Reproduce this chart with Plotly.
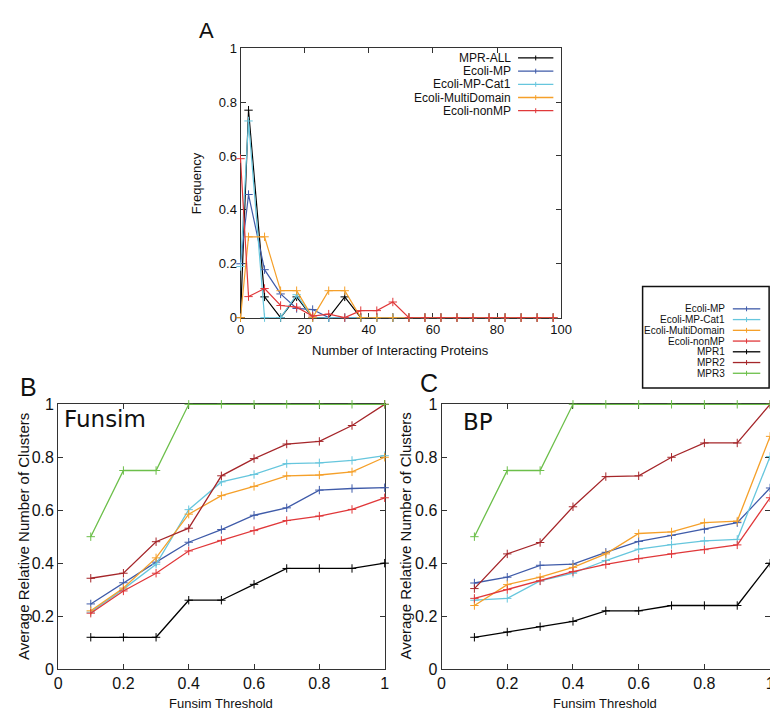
import plotly.graph_objects as go

# ---- Panel A: distribution of number of interacting proteins ----
interact_x = [0, 2.5, 7.5, 12.5, 17.5, 22.5, 27.5, 32.5, 37.5, 42.5, 47.5,
              52.5, 57.5, 62.5, 67.5, 72.5, 77.5, 82.5, 87.5, 92.5, 97.5]
freq_mpr_all = [0, 0.77, 0.077, 0, 0.077, 0, 0, 0.077, 0, 0, 0,
                0, 0, 0, 0, 0, 0, 0, 0, 0, 0]
freq_ecoli_mp = [0.2, 0.457, 0.178, 0.088, 0.034, 0.03, 0, 0, 0, 0, 0,
                 0, 0, 0, 0, 0, 0, 0, 0, 0, 0]
freq_cat1 = [0.19, 0.73, 0, 0, 0.085, 0, 0, 0, 0, 0, 0,
             0, 0, 0, 0, 0, 0, 0, 0, 0, 0]
freq_multidomain = [0, 0.3, 0.3, 0.1, 0.1, 0, 0.1, 0.1, 0, 0, 0,
                    0, 0, 0, 0, 0, 0, 0, 0, 0, 0]
freq_nonmp = [0.59, 0.078, 0.108, 0.045, 0.039, 0.006, 0.013, 0, 0.026, 0.026, 0.058,
              0, 0, 0, 0, 0, 0, 0, 0, 0, 0]

# ---- Panels B and C: relative number of clusters vs Funsim threshold ----
threshold = [0.1, 0.2, 0.3, 0.4, 0.5, 0.6, 0.7, 0.8, 0.9, 1.0]

funsim_ecoli_mp = [0.246, 0.326, 0.404, 0.479, 0.527, 0.581, 0.609, 0.676, 0.682, 0.685]
funsim_cat1 = [0.215, 0.302, 0.396, 0.602, 0.707, 0.735, 0.776, 0.779, 0.788, 0.806]
funsim_multidomain = [0.22, 0.306, 0.42, 0.585, 0.655, 0.69, 0.73, 0.733, 0.745, 0.80]
funsim_nonmp = [0.211, 0.295, 0.362, 0.446, 0.486, 0.523, 0.561, 0.578, 0.603, 0.647]
funsim_mpr1 = [0.12, 0.12, 0.12, 0.26, 0.26, 0.32, 0.38, 0.38, 0.38, 0.40]
funsim_mpr2 = [0.343, 0.362, 0.481, 0.532, 0.73, 0.795, 0.85, 0.86, 0.92, 1.0]
funsim_mpr3 = [0.5, 0.75, 0.75, 1, 1, 1, 1, 1, 1, 1]

bp_ecoli_mp = [0.325, 0.347, 0.392, 0.396, 0.441, 0.482, 0.505, 0.528, 0.553, 0.684]
bp_cat1 = [0.26, 0.267, 0.333, 0.362, 0.41, 0.453, 0.47, 0.484, 0.49, 0.803]
bp_multidomain = [0.24, 0.319, 0.347, 0.384, 0.435, 0.512, 0.518, 0.553, 0.559, 0.879]
bp_nonmp = [0.267, 0.30, 0.333, 0.368, 0.395, 0.417, 0.435, 0.451, 0.469, 0.647]
bp_mpr1 = [0.12, 0.14, 0.16, 0.18, 0.22, 0.22, 0.24, 0.24, 0.24, 0.40]
bp_mpr2 = [0.304, 0.435, 0.478, 0.613, 0.727, 0.73, 0.80, 0.854, 0.854, 1.0]
bp_mpr3 = [0.5, 0.75, 0.75, 1, 1, 1, 1, 1, 1, 1]

# colours
C_BLACK = '#000000'
C_BLUE = '#3f5ba9'
C_CYAN = '#66c6dd'
C_ORANGE = '#f5a02a'
C_RED = '#e0383a'
C_DARKRED = '#a5262a'
C_GREEN = '#6cbf4a'

W, H = 778, 713
FONT = 'Liberation Sans, Arial, sans-serif'


def px(x):
    return x / W


def py(y):
    return 1 - y / H


fig = go.Figure()


def add_line(x, y, name, color, xa, ya, width=1.2):
    fig.add_trace(go.Scatter(
        x=x, y=y, name=name, mode='lines+markers',
        line=dict(color=color, width=width),
        marker=dict(symbol='cross-thin', size=6, line=dict(width=1, color=color)),
        xaxis=xa, yaxis=ya, showlegend=False, cliponaxis=False,
    ))


panel_a = [
    ('MPR-ALL', freq_mpr_all, C_BLACK),
    ('Ecoli-MP', freq_ecoli_mp, C_BLUE),
    ('Ecoli-MP-Cat1', freq_cat1, C_CYAN),
    ('Ecoli-MultiDomain', freq_multidomain, C_ORANGE),
    ('Ecoli-nonMP', freq_nonmp, C_RED),
]
for name, vals, col in panel_a:
    add_line(interact_x, vals, name, col, 'x', 'y')

panel_b = [
    ('Ecoli-MP', funsim_ecoli_mp, C_BLUE),
    ('Ecoli-MP-Cat1', funsim_cat1, C_CYAN),
    ('Ecoli-MultiDomain', funsim_multidomain, C_ORANGE),
    ('Ecoli-nonMP', funsim_nonmp, C_RED),
    ('MPR1', funsim_mpr1, C_BLACK),
    ('MPR2', funsim_mpr2, C_DARKRED),
    ('MPR3', funsim_mpr3, C_GREEN),
]
for name, vals, col in panel_b:
    add_line(threshold, vals, name, col, 'x2', 'y2', 1.3)

panel_c = [
    ('Ecoli-MP', bp_ecoli_mp, C_BLUE),
    ('Ecoli-MP-Cat1', bp_cat1, C_CYAN),
    ('Ecoli-MultiDomain', bp_multidomain, C_ORANGE),
    ('Ecoli-nonMP', bp_nonmp, C_RED),
    ('MPR1', bp_mpr1, C_BLACK),
    ('MPR2', bp_mpr2, C_DARKRED),
    ('MPR3', bp_mpr3, C_GREEN),
]
for name, vals, col in panel_c:
    add_line(threshold, vals, name, col, 'x3', 'y3', 1.3)

axis_common = dict(showgrid=False, zeroline=False, showline=True, linecolor='#333333',
                   linewidth=1, mirror='ticks', ticks='inside', ticklen=5,
                   tickcolor='#333333', layer='below traces')

fig.update_layout(
    width=W, height=H,
    margin=dict(l=0, r=0, t=0, b=0),
    paper_bgcolor='white', plot_bgcolor='white',
    font=dict(family=FONT, size=13, color='#111111'),
    xaxis=dict(domain=[px(233), px(560)], range=[0, 100], dtick=20, anchor='y',
               tickfont=dict(size=13), **axis_common),
    yaxis=dict(domain=[py(309), py(33)], range=[0, 1], dtick=0.2, anchor='x',
               tickfont=dict(size=13), **axis_common),
    xaxis2=dict(domain=[px(47), px(380)], range=[0, 1], dtick=0.2, anchor='y2',
                tickfont=dict(size=16), **axis_common),
    yaxis2=dict(domain=[py(669), py(397)], range=[0, 1.003], tickvals=[0, 0.2, 0.4, 0.6, 0.8, 1],
                anchor='x2', tickfont=dict(size=16), **axis_common),
    xaxis3=dict(domain=[px(438), px(773)], range=[0, 1], dtick=0.2, anchor='y3',
                tickfont=dict(size=16), **axis_common),
    yaxis3=dict(domain=[py(669), py(397)], range=[0, 1.003], tickvals=[0, 0.2, 0.4, 0.6, 0.8, 1],
                anchor='x3', tickfont=dict(size=16), **axis_common),
)

annotations = []
shapes = []


def text(x, y, s, size, angle=0, xanchor='center', family=FONT):
    annotations.append(dict(x=px(x), y=py(y), xref='paper', yref='paper', text=s,
                            showarrow=False, xanchor=xanchor, yanchor='middle',
                            textangle=angle, font=dict(size=size, family=family)))


# panel letters and inner labels
text(198, 15, 'A', 22)
text(17, 380, 'B', 25)
text(425, 376, 'C', 25)
text(95, 413, 'Funsim', 23, family='DejaVu Sans')
text(475, 416, 'BP', 23, family='DejaVu Sans')

# axis titles
text(396, 343, 'Number of Interacting Proteins', 13)
text(189, 171, 'Frequency', 13, angle=-90)
text(213, 704, 'Funsim Threshold', 13)
text(605, 704, 'Funsim Threshold', 13)
text(12, 533, 'Average Relative Number of Clusters', 15, angle=-90)
text(401, 533, 'Average Relative Number of Clusters', 15, angle=-90)


def legend_entry(y, name, color, x_text, x0, x1, size):
    text(x_text, y, name, size, xanchor='right')
    shapes.append(dict(type='line', xref='paper', yref='paper', x0=px(x0), x1=px(x1),
                       y0=py(y), y1=py(y), line=dict(color=color, width=1.3)))
    xm = (x0 + x1) / 2
    shapes.append(dict(type='line', xref='paper', yref='paper', x0=px(xm), x1=px(xm),
                       y0=py(y - 2.5), y1=py(y + 2.5), line=dict(color=color, width=1)))


# panel A legend
for i, (name, _, col) in enumerate(panel_a):
    legend_entry(43 + i * 13.5, name, col, 511, 516, 552, 12)

# shared legend for B and C
shapes.append(dict(type='rect', xref='paper', yref='paper', x0=px(643), x1=px(772),
                   y0=py(277), y1=py(381), line=dict(color='#111111', width=1.5)))
for i, (name, _, col) in enumerate(panel_b):
    legend_entry(300 + i * 11, name, col, 729, 735, 763, 10)

fig.update_layout(annotations=annotations, shapes=shapes)

fig.write_html('out.html')
